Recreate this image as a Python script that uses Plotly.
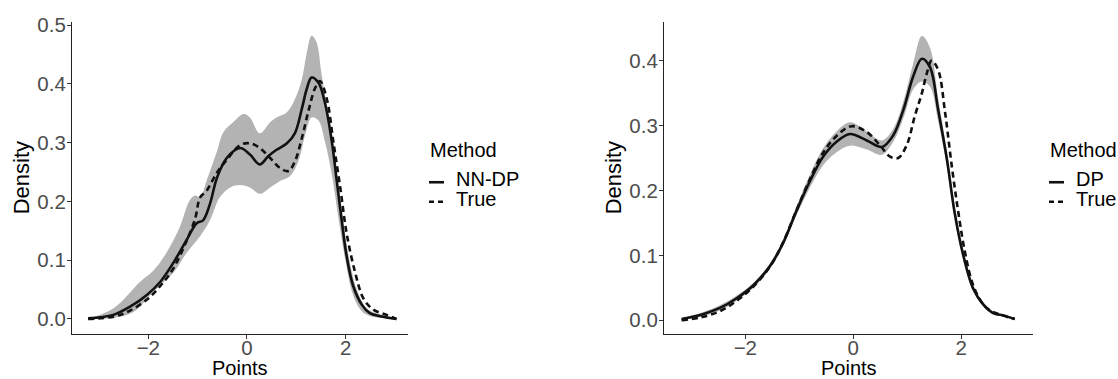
import plotly.graph_objects as go

# ---------------- Left panel (NN-DP) ----------------
nn_x = [-3.22, -2.71, -2.37, -2.03, -1.76, -1.49, -1.22, -1.02, -0.89, -0.75, -0.61, -0.41, -0.14, 0.06,
        0.26, 0.43, 0.60, 0.81, 0.97, 1.11, 1.21, 1.31, 1.45, 1.58, 1.72, 1.82, 1.92, 2.02, 2.15, 2.33,
        2.49, 2.70, 3.03]
nn_d = [0.001, 0.007, 0.021, 0.041, 0.063, 0.096, 0.135, 0.163, 0.168, 0.196, 0.240, 0.274, 0.291, 0.280,
        0.263, 0.277, 0.288, 0.299, 0.316, 0.357, 0.391, 0.411, 0.402, 0.368, 0.302, 0.235, 0.168, 0.107,
        0.057, 0.024, 0.010, 0.0045, 0.0]

true1_x = [-3.22, -2.70, -2.40, -2.00, -1.70, -1.50, -1.25, -1.05, -0.95, -0.82, -0.61, -0.40, -0.14, 0.06,
           0.26, 0.47, 0.67, 0.84, 0.97, 1.11, 1.24, 1.38, 1.48, 1.62, 1.75, 1.89, 2.02, 2.19, 2.36, 2.56,
           2.83, 3.03]
true1_d = [0.0, 0.004, 0.013, 0.035, 0.062, 0.085, 0.128, 0.171, 0.207, 0.218, 0.249, 0.272, 0.296, 0.299,
           0.291, 0.274, 0.257, 0.252, 0.268, 0.307, 0.352, 0.393, 0.405, 0.374, 0.302, 0.224, 0.146, 0.080,
           0.035, 0.016, 0.007, 0.0]

up1_x = [-3.22, -2.71, -2.17, -1.90, -1.63, -1.36, -1.16, -1.05, -0.95, -0.82, -0.61, -0.48, -0.28, -0.07,
         0.06, 0.26, 0.47, 0.60, 0.81, 0.97, 1.11, 1.21, 1.31, 1.41, 1.51, 1.65, 1.79, 1.92, 2.05, 2.22,
         2.43, 2.70, 3.03]
up1_d = [0.001, 0.018, 0.063, 0.082, 0.113, 0.157, 0.202, 0.210, 0.207, 0.235, 0.285, 0.318, 0.335, 0.349,
         0.343, 0.316, 0.335, 0.343, 0.352, 0.374, 0.407, 0.452, 0.482, 0.471, 0.418, 0.346, 0.268, 0.185,
         0.113, 0.052, 0.018, 0.008, 0.002]

lo1_x = [-3.22, -2.71, -2.30, -1.90, -1.49, -1.22, -0.95, -0.75, -0.55, -0.34, -0.14, 0.06, 0.26, 0.47,
         0.67, 0.87, 1.04, 1.18, 1.31, 1.45, 1.58, 1.72, 1.85, 1.99, 2.15, 2.33, 2.49, 3.03]
lo1_d = [0.0, 0.002, 0.012, 0.046, 0.079, 0.113, 0.141, 0.168, 0.207, 0.224, 0.228, 0.224, 0.213, 0.224,
         0.235, 0.243, 0.268, 0.313, 0.343, 0.338, 0.302, 0.246, 0.174, 0.102, 0.041, 0.013, 0.005, 0.0]

# ---------------- Right panel (DP) ----------------
dp_x = [-3.18, -2.80, -2.47, -2.16, -1.85, -1.54, -1.30, -1.05, -0.80, -0.56, -0.31, -0.06, 0.25, 0.53,
        0.74, 0.93, 1.11, 1.27, 1.42, 1.57, 1.73, 1.88, 2.04, 2.22, 2.41, 2.59, 2.78, 2.99]
dp_d = [0.002, 0.009, 0.019, 0.034, 0.054, 0.084, 0.119, 0.169, 0.215, 0.252, 0.275, 0.287, 0.277, 0.267,
        0.285, 0.325, 0.376, 0.403, 0.390, 0.325, 0.250, 0.164, 0.099, 0.049, 0.024, 0.011, 0.0075, 0.002]
dp_up = [0.003, 0.012, 0.023, 0.038, 0.058, 0.088, 0.124, 0.176, 0.225, 0.265, 0.291, 0.305, 0.291, 0.277,
         0.295, 0.338, 0.396, 0.438, 0.420, 0.343, 0.262, 0.174, 0.106, 0.054, 0.027, 0.013, 0.009, 0.003]
dp_lo = [0.001, 0.006, 0.015, 0.030, 0.050, 0.080, 0.114, 0.162, 0.205, 0.239, 0.259, 0.269, 0.263, 0.255,
         0.275, 0.312, 0.356, 0.368, 0.360, 0.307, 0.238, 0.154, 0.092, 0.044, 0.021, 0.009, 0.006, 0.001]

true2_x = [-3.18, -2.80, -2.47, -2.16, -1.85, -1.54, -1.30, -1.05, -0.80, -0.56, -0.31, -0.03, 0.25, 0.49,
           0.68, 0.83, 0.99, 1.14, 1.27, 1.36, 1.45, 1.57, 1.70, 1.82, 1.94, 2.07, 2.22, 2.41, 2.59, 2.99]
true2_d = [0.0, 0.005, 0.014, 0.030, 0.052, 0.083, 0.120, 0.170, 0.218, 0.258, 0.284, 0.299, 0.290, 0.270,
           0.252, 0.250, 0.270, 0.315, 0.350, 0.380, 0.400, 0.386, 0.320, 0.240, 0.169, 0.104, 0.054, 0.024,
           0.013, 0.002]

x_ticks = [-2, 0, 2]
x_tick_text = ["\u22122", "0", "2"]
y_ticks_left = [0.0, 0.1, 0.2, 0.3, 0.4, 0.5]
y_ticks_right = [0.0, 0.1, 0.2, 0.3, 0.4]
legend_left = ["NN-DP", "True"]
legend_right = ["DP", "True"]

W, H = 1118, 379
BAND = "#B3B3B3"
LINE = "#111111"
DASH = "6px,4px"
FONT = "Liberation Sans, Arial, sans-serif"

fig = go.Figure()


def add_panel(xa, ya, bx_lo, b_lo, bx_up, b_up, sx, sd, tx, td):
    fig.add_trace(go.Scatter(x=bx_lo, y=b_lo, mode="lines", line=dict(width=0, shape="spline"),
                             xaxis=xa, yaxis=ya, showlegend=False, hoverinfo="skip"))
    fig.add_trace(go.Scatter(x=bx_up, y=b_up, mode="lines", line=dict(width=0, shape="spline"),
                             fill="tonexty", fillcolor=BAND, xaxis=xa, yaxis=ya, showlegend=False,
                             hoverinfo="skip"))
    fig.add_trace(go.Scatter(x=tx, y=td, mode="lines",
                             line=dict(color=LINE, width=2.6, dash=DASH, shape="spline"),
                             xaxis=xa, yaxis=ya, showlegend=False))
    fig.add_trace(go.Scatter(x=sx, y=sd, mode="lines",
                             line=dict(color=LINE, width=2.6, shape="spline"),
                             xaxis=xa, yaxis=ya, showlegend=False))


add_panel("x", "y", lo1_x, lo1_d, up1_x, up1_d, nn_x, nn_d, true1_x, true1_d)
add_panel("x2", "y2", dp_x, dp_lo, dp_x, dp_up, dp_x, dp_d, true2_x, true2_d)

ydom = [(379 - 333) / H, (379 - 14) / H]
axis_common = dict(showline=True, linecolor="#222222", linewidth=1.2, showgrid=False, zeroline=False,
                   ticks="outside", ticklen=4, tickwidth=1, tickcolor="#333333",
                   tickfont=dict(family=FONT, size=20.5, color="#4D4D4D"))
xstand = dict(ticklabelstandoff=-9)
ystand = dict(ticklabelstandoff=-3)

fig.update_layout(
    width=W, height=H, margin=dict(l=0, r=0, t=0, b=0),
    paper_bgcolor="white", plot_bgcolor="white",
    xaxis=dict(domain=[72 / W, 408 / W], range=[-3.547, 3.264], tickvals=x_ticks, ticktext=x_tick_text,
               anchor="y", **axis_common, **xstand),
    yaxis=dict(domain=ydom, range=[-0.0255, 0.506], tickvals=y_ticks_left, tickformat=".1f",
               anchor="x", **axis_common, **ystand),
    xaxis2=dict(domain=[664 / W, 1033 / W], range=[-3.506, 3.328], tickvals=x_ticks, ticktext=x_tick_text,
                anchor="y2", **axis_common, **xstand),
    yaxis2=dict(domain=ydom, range=[-0.0211, 0.460], tickvals=y_ticks_right, tickformat=".1f",
                anchor="x2", **axis_common, **ystand),
    showlegend=False,
)


def px(x):
    return x / W


def py(y):
    return 1 - y / H


ann = []
shapes = []
# axis titles
for cx in (240, 849):
    ann.append(dict(text="Points", x=px(cx), y=py(368), xref="paper", yref="paper", showarrow=False,
                    xanchor="center", yanchor="middle", font=dict(family=FONT, size=20, color="black")))
for cx in (21, 613):
    ann.append(dict(text="Density", x=px(cx), y=py(174), xref="paper", yref="paper", showarrow=False,
                    textangle=-90, xanchor="center", yanchor="middle",
                    font=dict(family=FONT, size=22, color="black")))


# legends (drawn as keys + labels)
def add_legend(x0, labels):
    ann.append(dict(text="Method", x=px(x0 - 1), y=py(145), xref="paper", yref="paper", showarrow=False,
                    xanchor="left", yanchor="middle", font=dict(family=FONT, size=20, color="black")))
    for i, (lab, yy) in enumerate(zip(labels, (178, 198))):
        shapes.append(dict(type="line", xref="paper", yref="paper", x0=px(x0), x1=px(x0 + 15),
                           y0=py(yy), y1=py(yy),
                           line=dict(color=LINE, width=2.6, dash="solid" if i == 0 else "5px,4px")))
        ann.append(dict(text=lab, x=px(x0 + 25), y=py(yy - 3), xref="paper", yref="paper",
                        showarrow=False, xanchor="left", yanchor="middle",
                        font=dict(family=FONT, size=20, color="black")))


add_legend(429, legend_left)
add_legend(1049, legend_right)

fig.update_layout(annotations=ann, shapes=shapes)
fig.write_html("out.html", config={"displayModeBar": False},
               post_script="document.body.style.margin='0';document.body.style.padding='0';"
                           "document.body.style.overflow='hidden';")
